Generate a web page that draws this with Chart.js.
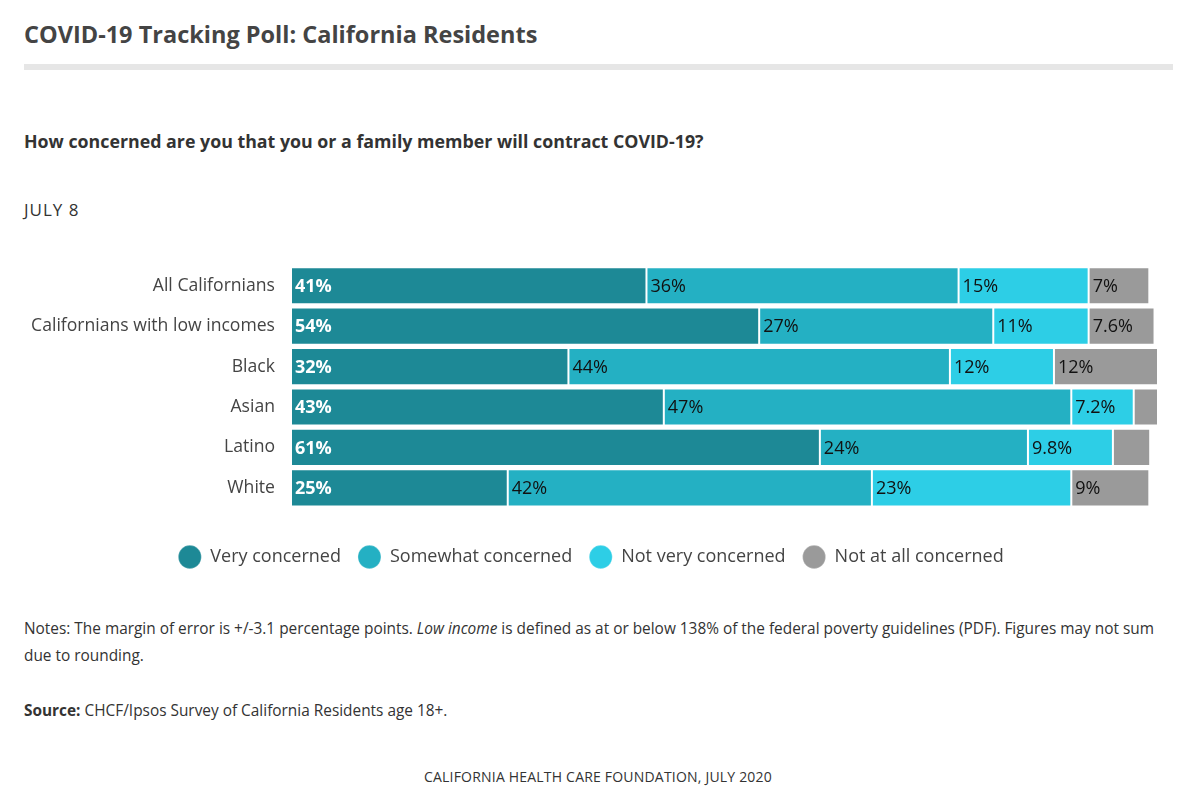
<!DOCTYPE html>
<html>
<head>
<meta charset="utf-8">
<title>COVID-19 Tracking Poll: California Residents</title>
<script src="https://cdn.jsdelivr.net/npm/chart.js@4.4.1/dist/chart.umd.min.js"></script>
<style>
  body { margin: 0; background: #fff; font-family: "Open Sans", sans-serif; color: #444; }
  .page { position: relative; width: 1200px; height: 807px; overflow: hidden; }
  .title { position: absolute; left: 24px; top: 18px; margin: 0; font-size: 23.5px; line-height: 32px; font-weight: 700; color: #444; }
  .rule { position: absolute; left: 24px; top: 64px; width: 1149px; height: 6px; background: #e6e6e6; }
  .question { position: absolute; left: 24px; top: 128px; margin: 0; font-size: 17.8px; line-height: 26px; font-weight: 700; color: #333; }
  .date { position: absolute; left: 24px; top: 198px; font-size: 17px; letter-spacing: 1px; line-height: 24px; color: #333; }
  .chart-box { position: absolute; left: 24px; top: 247px; width: 1152px; height: 329px; }
  .notes { position: absolute; left: 24px; top: 615px; width: 1150px; font-size: 15.4px; line-height: 27px; color: #333; }
  .source { position: absolute; left: 24px; top: 697px; font-size: 15.4px; line-height: 27px; color: #333; }
  .footer { position: absolute; left: 0; top: 767px; width: 1196px; text-align: center; font-size: 14px; letter-spacing: 0.2px; line-height: 20px; color: #333; }
</style>
</head>
<body>
<div class="page">
  <h1 class="title">COVID-19 Tracking Poll: California Residents</h1>
  <div class="rule"></div>
  <h2 class="question">How concerned are you that you or a family member will contract COVID-19?</h2>
  <div class="date">JULY 8</div>
  <div class="chart-box"><canvas id="poll-chart"></canvas></div>
  <div class="notes">Notes: The margin of error is +/-3.1 percentage points. <em>Low income</em> is defined as at or below 138% of the federal poverty guidelines (PDF). Figures may not sum due to rounding.</div>
  <div class="source"><strong>Source:</strong> CHCF/Ipsos Survey of California Residents age 18+.</div>
  <div class="footer">CALIFORNIA HEALTH CARE FOUNDATION, JULY 2020</div>
</div>

<script>
// Groups (rows) and the share answering each level of concern, in %
const groups = ['All Californians', 'Californians with low incomes', 'Black', 'Asian', 'Latino', 'White'];
const veryConcerned = [41, 54, 32, 43, 61, 25];
const somewhatConcerned = [36, 27, 44, 47, 24, 42];
const notVeryConcerned = [15, 11, 12, 7.2, 9.8, 23];
const notAtAllConcerned = [7, 7.6, 12, 2.8, 4.3, 9];

const seriesNames = ['Very concerned', 'Somewhat concerned', 'Not very concerned', 'Not at all concerned'];
const seriesColors = ['#1d8996', '#24b0c3', '#2dcee6', '#9a9a9a'];
const seriesValues = [veryConcerned, somewhatConcerned, notVeryConcerned, notAtAllConcerned];

// Write the value at the left of each segment (segments that are too narrow stay blank)
const segmentLabels = {
  id: 'segmentLabels',
  afterDatasetsDraw(chart) {
    const ctx = chart.ctx;
    ctx.save();
    ctx.textAlign = 'left';
    ctx.textBaseline = 'middle';
    chart.data.datasets.forEach((ds, di) => {
      const meta = chart.getDatasetMeta(di);
      if (meta.hidden) return;
      meta.data.forEach((bar, i) => {
        const value = ds.data[i];
        if (value < 5) return;
        const left = Math.min(bar.x, bar.base);
        ctx.font = (di === 0 ? 'bold ' : '') + '18px "Open Sans", sans-serif';
        ctx.fillStyle = di === 0 ? '#ffffff' : '#111111';
        ctx.fillText(value + '%', left + 4, bar.y + 1);
      });
    });
    ctx.restore();
  }
};

const ctx = document.getElementById('poll-chart').getContext('2d');
new Chart(ctx, {
  type: 'bar',
  data: {
    labels: groups,
    datasets: seriesNames.map((name, i) => ({
      label: name,
      data: seriesValues[i],
      backgroundColor: seriesColors[i],
      borderColor: 'rgba(255,255,255,0.25)',
      borderWidth: 1,
      borderSkipped: false,
      barPercentage: 0.92,
      categoryPercentage: 1
    }))
  },
  options: {
    indexAxis: 'y',
    responsive: true,
    maintainAspectRatio: false,
    animation: false,
    layout: { padding: { top: 0, right: 18, bottom: 0, left: 0 } },
    scales: {
      x: {
        stacked: true,
        min: 0,
        max: 100,
        grid: { display: false },
        border: { display: false },
        ticks: { display: false },
        afterFit(scale) { scale.height = 23; }   // gap between bars and legend
      },
      y: {
        stacked: true,
        grid: { display: false },
        border: { display: false },
        ticks: {
          color: '#444',
          padding: 8,
          font: { family: '"Open Sans", sans-serif', size: 17.6 }
        },
        afterFit(scale) { scale.width = 267; }
      }
    },
    plugins: {
      legend: {
        position: 'bottom',
        labels: {
          usePointStyle: true,
          pointStyle: 'circle',
          pointStyleWidth: 23,
          boxHeight: 16.5,
          padding: 17,
          color: '#444',
          font: { family: '"Open Sans", sans-serif', size: 18 }
        }
      },
      tooltip: { enabled: false }
    }
  },
  plugins: [segmentLabels]
});
</script>
</body>
</html>
